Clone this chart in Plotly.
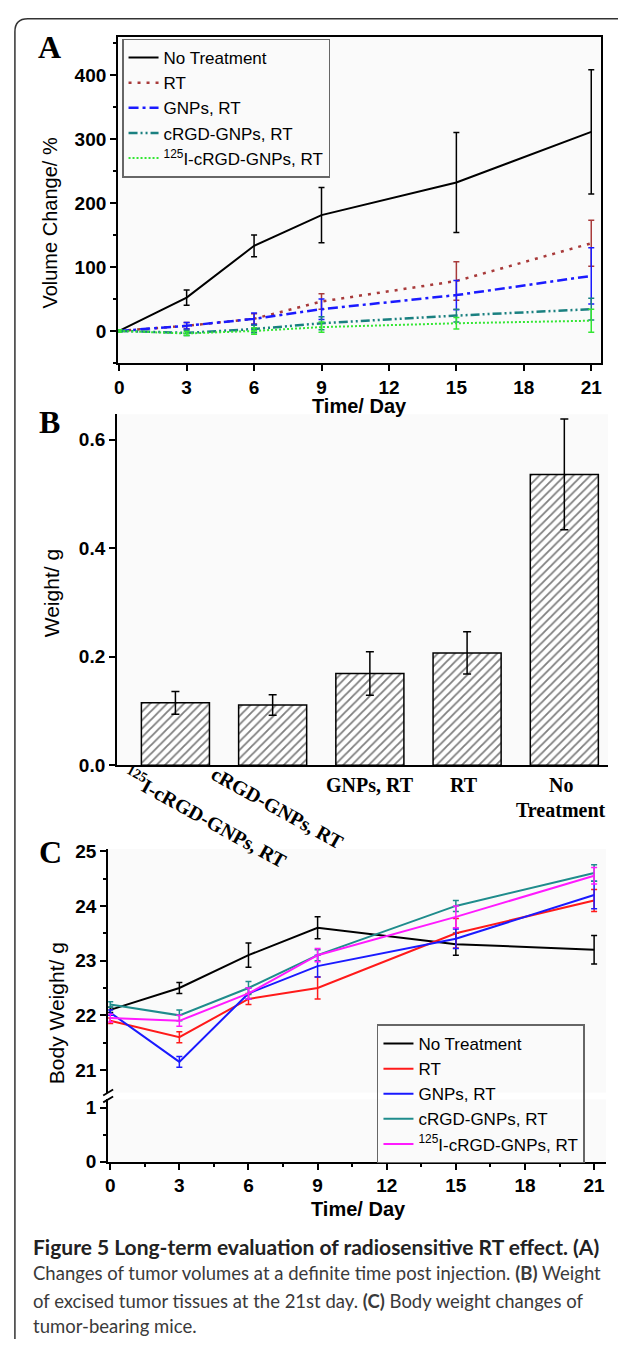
import plotly.graph_objects as go

W, H = 619, 1350


def px(x):
    return x / W


def py(y):
    return 1 - y / H


ARIAL = "Liberation Sans, Arial, sans-serif"
TIMES = "Liberation Serif, Times New Roman, serif"
CAPFONT = "Lato, Open Sans, sans-serif"

# ---------------- data ----------------
days = [0, 3, 6, 9, 15, 21]
day_ticks = [0, 3, 6, 9, 12, 15, 18, 21]
series_names = ["No Treatment", "RT", "GNPs, RT", "cRGD-GNPs, RT",
                "<sup>125</sup>I-cRGD-GNPs, RT"]

# Panel A: tumour volume change (%)
vol_no_treatment = [0, 52, 133, 181, 232, 311]
vol_no_treatment_err = [0, 12, 17, 43, 78, 97]
vol_rt = [0, 8, 19, 46, 78, 137]
vol_rt_err = [2, 5, 8, 12, 30, 36]
vol_gnps = [0, 8, 19, 34, 56, 86]
vol_gnps_err = [2, 5, 9, 16, 23, 44]
vol_crgd = [0, -3, 3, 12, 24, 34]
vol_crgd_err = [2, 4, 6, 10, 10, 17]
vol_i125 = [0, -4, 0, 6, 12, 16]
vol_i125_err = [2, 3, 5, 8, 9, 18]
vol_ticks = [0, 100, 200, 300, 400]
vol_minor = [-50, 50, 150, 250, 350, 450]

# Panel B: excised tumour weight (g)
bar_categories = ["125I-cRGD-GNPs, RT", "cRGD-GNPs, RT", "GNPs, RT", "RT", "No Treatment"]
bar_labels = ["<sup>125</sup>I-cRGD-GNPs, RT", "cRGD-GNPs, RT", "GNPs, RT", "RT", "No"]
bar_label_second_line = ["", "", "", "", "Treatment"]
tumor_weight = [0.115, 0.111, 0.169, 0.207, 0.536]
tumor_weight_err = [0.021, 0.019, 0.040, 0.039, 0.102]
weight_ticks = [0.0, 0.2, 0.4, 0.6]
weight_ticktext = ["0.0", "0.2", "0.4", "0.6"]

# Panel C: body weight (g)
bw_no_treatment = [22.1, 22.5, 23.1, 23.6, 23.3, 23.2]
bw_no_treatment_err = [0.05, 0.1, 0.22, 0.2, 0.2, 0.26]
bw_rt = [21.9, 21.6, 22.3, 22.5, 23.5, 24.1]
bw_rt_err = [0.05, 0.1, 0.1, 0.2, 0.27, 0.2]
bw_gnps = [22.05, 21.15, 22.4, 22.9, 23.4, 24.2]
bw_gnps_err = [0.05, 0.1, 0.1, 0.2, 0.18, 0.25]
bw_crgd = [22.2, 22.0, 22.5, 23.1, 24.0, 24.6]
bw_crgd_err = [0.05, 0.1, 0.12, 0.1, 0.1, 0.15]
bw_i125 = [21.95, 21.9, 22.4, 23.1, 23.8, 24.55]
bw_i125_err = [0.07, 0.1, 0.1, 0.12, 0.2, 0.15]
bw_ticks_upper = [21, 22, 23, 24, 25]
bw_minor_upper = [21.5, 22.5, 23.5, 24.5]
bw_ticks_lower = [0, 1]
bw_minor_lower = [0.5]

caption_lines = [
    "Figure 5 Long-term evaluation of radiosensitive RT effect. (A)",
    "Changes of tumor volumes at a definite time post injection. <b>(B)</b> Weight",
    "of excised tumor tissues at the 21st day. <b>(C)</b> Body weight changes of",
    "tumor-bearing mice.",
]

# ---------------- styles ----------------
a_styles = [
    dict(color="black", dash="solid", width=2),
    dict(color="#a83a3a", dash="3px,6px", width=2.5),
    dict(color="#1a1aff", dash="10px,4px,3px,4px", width=2.5),
    dict(color="#1a8080", dash="9px,3px,2px,3px,2px,3px", width=2.5),
    dict(color="#33e633", dash="2px,2px", width=2),
]
c_colors = ["black", "#ff1a1a", "#1a1aff", "#1f8c8c", "#ff1aff"]

fig = go.Figure()

a_vals = [vol_no_treatment, vol_rt, vol_gnps, vol_crgd, vol_i125]
a_errs = [vol_no_treatment_err, vol_rt_err, vol_gnps_err, vol_crgd_err, vol_i125_err]
for name, vals, errs, st in zip(series_names, a_vals, a_errs, a_styles):
    fig.add_trace(go.Scatter(
        x=days, y=vals, name=name, mode="lines",
        line=dict(color=st["color"], dash=st["dash"], width=st["width"]),
        error_y=dict(type="data", array=errs, color=st["color"], thickness=1.5, width=3),
        xaxis="x", yaxis="y", legend="legend",
    ))

fig.add_trace(go.Bar(
    x=bar_categories, y=tumor_weight, width=0.7,
    marker=dict(color="white", line=dict(color="black", width=1.5),
                pattern=dict(shape="/", fgcolor="black", bgcolor="white",
                             size=6, solidity=0.3)),
    error_y=dict(type="data", array=tumor_weight_err, color="black", thickness=1.5, width=4),
    xaxis="x2", yaxis="y2", showlegend=False,
))

c_vals = [bw_no_treatment, bw_rt, bw_gnps, bw_crgd, bw_i125]
c_errs = [bw_no_treatment_err, bw_rt_err, bw_gnps_err, bw_crgd_err, bw_i125_err]
for name, vals, errs, col in zip(series_names, c_vals, c_errs, c_colors):
    fig.add_trace(go.Scatter(
        x=days, y=vals, name=name, mode="lines",
        line=dict(color=col, width=2),
        error_y=dict(type="data", array=errs, color=col, thickness=1.5, width=3),
        xaxis="x3", yaxis="y3", legend="legend2",
    ))
# empty trace so the lower (broken) segment of the body-weight axis exists
fig.add_trace(go.Scatter(x=[None], y=[None], xaxis="x3", yaxis="y4", showlegend=False,
                         hoverinfo="skip"))

tickfont = dict(family=ARIAL, size=19, color="black", weight="bold")
common = dict(showgrid=False, zeroline=False, showline=True, linecolor="black",
              linewidth=2, ticks="outside", ticklen=6, tickwidth=2,
              tickcolor="black", tickfont=tickfont)

annotations = []
# panel letters
for letter, (lx, ly) in zip("ABC", [(46, 40), (46, 420), (47, 856)]):
    annotations.append(dict(text=letter, x=px(lx), y=py(ly), xref="paper", yref="paper",
                            showarrow=False, xanchor="center", yanchor="middle",
                            font=dict(family=TIMES, size=32, color="black", weight="bold")))
# axis titles
for txt, (tx, ty), size in [("Volume Change/ %", (46, 218), 20),
                            ("Weight/ g", (48, 594), 21),
                            ("Body Weight/ g", (53, 1020), 21)]:
    annotations.append(dict(text=txt, x=px(tx), y=py(ty), xref="paper", yref="paper",
                            showarrow=False, textangle=-90, xanchor="center", yanchor="middle",
                            font=dict(family=ARIAL, size=size, color="black")))
for (tx, ty) in [(358, 404), (357, 1218)]:
    annotations.append(dict(text="Time/ Day", x=px(tx), y=py(ty), xref="paper", yref="paper",
                            showarrow=False, xanchor="center", yanchor="middle",
                            font=dict(family=ARIAL, size=20, color="black", weight="bold")))
# bar category labels
bar_label_pos = [dict(xshift=30, y=821, angle=29), dict(xshift=5, y=811, angle=29),
                 dict(xshift=0, y=788, angle=0), dict(xshift=-3, y=788, angle=0),
                 dict(xshift=-3, y=788, angle=0)]
barfont = dict(family=TIMES, size=20, color="black", weight="bold")
for i, (lab, lab2, pos) in enumerate(zip(bar_labels, bar_label_second_line, bar_label_pos)):
    annotations.append(dict(text=lab, x=i, xref="x2", y=py(pos["y"]), yref="paper",
                            xshift=pos["xshift"], textangle=pos["angle"], showarrow=False,
                            xanchor="center", yanchor="middle", font=barfont))
    if lab2:
        annotations.append(dict(text=lab2, x=i, xref="x2", y=py(pos["y"] + 25), yref="paper",
                                xshift=pos["xshift"], showarrow=False,
                                xanchor="center", yanchor="middle", font=barfont))
# caption
caption_style = [dict(size=21, color="#222222", weight="bold"),
                 dict(size=18.5, color="#3a3a3a", weight="normal"),
                 dict(size=18.5, color="#3a3a3a", weight="normal"),
                 dict(size=18.5, color="#3a3a3a", weight="normal")]
for line, cy, st in zip(caption_lines, [1256, 1283, 1311, 1337], caption_style):
    annotations.append(dict(text=line, x=px(27), y=py(cy), xref="paper", yref="paper",
                            showarrow=False, xanchor="left", yanchor="middle",
                            font=dict(family=CAPFONT, **st)))

shapes = [
    # outer frame (left + top with rounded corner)
    dict(type="path", xref="paper", yref="paper",
         path=(f"M {px(11)},{py(1350)} L {px(11)},{py(24)} "
               f"Q {px(11)},{py(11)} {px(24)},{py(11)} L {px(619)},{py(11)}"),
         line=dict(color="#333333", width=1.5)),
    # axis break marks on the body-weight axis
    dict(type="line", xref="paper", yref="paper", x0=px(100), y0=py(1103), x1=px(110), y1=py(1097),
         line=dict(color="black", width=1.8)),
    dict(type="line", xref="paper", yref="paper", x0=px(100), y0=py(1110), x1=px(110), y1=py(1104),
         line=dict(color="black", width=1.8)),
]

legend_common = dict(xanchor="left", yanchor="top", bgcolor="rgba(0,0,0,0)",
                     bordercolor="#666666", borderwidth=1.5, itemwidth=30,
                     font=dict(family=ARIAL, size=17, color="black"), tracegroupgap=0)

fig.update_layout(
    width=W, height=H, margin=dict(l=0, r=0, t=0, b=0),
    paper_bgcolor="white", plot_bgcolor="#fafafa",
    showlegend=True,
    legend=dict(x=px(119), y=py(31), **legend_common),
    legend2=dict(x=px(376), y=py(1031), **legend_common),
    xaxis=dict(domain=[px(115), px(602)], anchor="y", range=[-0.05, 21.44],
               tickvals=day_ticks, mirror=True, **common),
    yaxis=dict(domain=[py(360), py(29)], anchor="x", range=[-50, 460],
               tickvals=vol_ticks, mirror=True,
               minor=dict(tickvals=vol_minor, ticks="outside", ticklen=3, tickwidth=1.5,
                          tickcolor="black"), **common),
    xaxis2=dict(domain=[px(114), px(609)], anchor="y2", type="category",
                range=[-0.6, 4.45], showgrid=False, zeroline=False, showline=True,
                linecolor="black", linewidth=2, ticks="", showticklabels=False),
    yaxis2=dict(domain=[py(768), py(412)], anchor="x2", range=[0, 0.647],
                tickvals=weight_ticks, ticktext=weight_ticktext, **common),
    xaxis3=dict(domain=[px(105), px(607)], anchor="y4", range=[-0.09, 21.52],
                tickvals=day_ticks,
                minor=dict(dtick=1.5, tick0=0, ticks="outside", ticklen=3, tickwidth=1.5,
                           tickcolor="black"), **common),
    yaxis3=dict(domain=[py(1100), py(853)], anchor="x3", range=[20.59, 25.04],
                tickvals=bw_ticks_upper,
                minor=dict(tickvals=bw_minor_upper, ticks="outside", ticklen=3, tickwidth=1.5,
                           tickcolor="black"), **common),
    yaxis4=dict(domain=[py(1170), py(1107)], anchor="x3", range=[0, 1.15],
                tickvals=bw_ticks_lower,
                minor=dict(tickvals=bw_minor_lower, ticks="outside", ticklen=3, tickwidth=1.5,
                           tickcolor="black"), **common),
    annotations=annotations,
    shapes=shapes,
)

fig.write_html(
    "out.html",
    config={"displayModeBar": False},
    post_script="document.body.style.margin='0px';document.body.style.overflow='hidden';",
)
